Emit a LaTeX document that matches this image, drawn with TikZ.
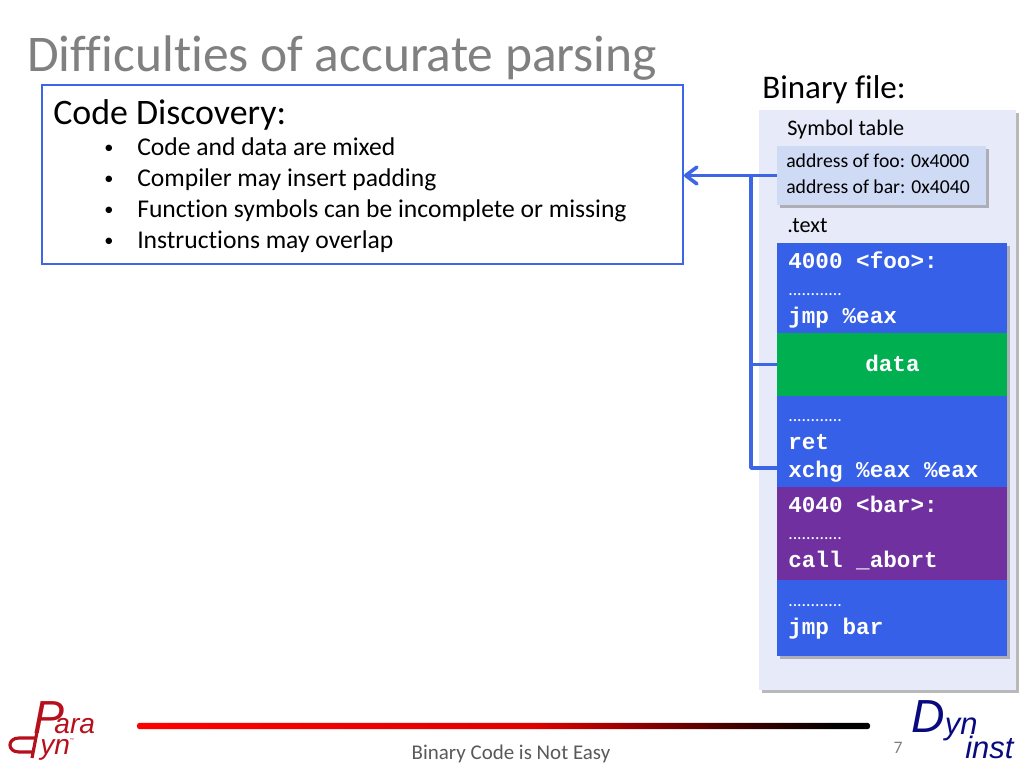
\documentclass[tikz,border=0pt]{standalone}
\usepackage{fontspec}
\setmainfont{Carlito}[Ligatures=NoCommon]
\newfontfamily\codefont{Liberation Mono}[BoldFont={Liberation Mono Bold}]
\newfontfamily\logofont{Liberation Sans}
\usetikzlibrary{positioning}
\usetikzlibrary{shadows, arrows.meta}
\definecolor{linkblue}{HTML}{3C66E6}
\definecolor{panelblue}{HTML}{E6EAF9}
\definecolor{symblue}{HTML}{CFDAF5}
\definecolor{codeblue}{HTML}{3660E8}
\definecolor{datagreen}{HTML}{00B050}
\definecolor{barpurple}{HTML}{7030A0}
\definecolor{paradark}{HTML}{B5101C}
\definecolor{dynnavy}{HTML}{0A0A80}
\pgfdeclarehorizontalshading{footbar}{100bp}{color(0bp)=(red); color(25bp)=(red); color(52bp)=(red!88!black); color(66bp)=(red!25!black); color(73bp)=(black); color(100bp)=(black)}
\tikzset{
  softshadow/.style={drop shadow={shadow xshift=0.07cm,shadow yshift=-0.08cm,fill=black!50,opacity=0.55}},
  blockbox/.style={rectangle,inner sep=0pt,minimum width=5.75cm,softshadow},
  linetext/.style={anchor=base west,inner sep=0pt},
  codeline/.style={linetext,text=white,font=\codefont\bfseries\fontsize{16.1}{18}\selectfont},
  dotline/.style={linetext,text=white,font=\fontsize{12.6}{14}\selectfont},
  bodytext/.style={linetext,font=\fontsize{18.2}{20}\selectfont},
  sidetext/.style={linetext,font=\fontsize{15.8}{18}\selectfont},
  linkline/.style={draw=linkblue,line width=0.09cm},
}
\begin{document}
\begin{tikzpicture}[x=0.025cm,y=-0.025cm]
\useasboundingbox (0,0) rectangle (1024,768);
% title and left box
\node[linetext,text=black!50,font=\fontsize{36.6}{44}\selectfont] (title) at (27,72) {Difficulties of accurate parsing};
\node[rectangle,draw=linkblue,line width=0.04cm,inner sep=0pt,minimum width=16.025cm,minimum height=4.475cm] (discbox) at (362.5,174.5) {};
\node[linetext,font=\fontsize{25.5}{28}\selectfont] (dischead) at (53,125) {Code Discovery:};
\foreach \ypos/\itemname/\itemtext in {156/itema/Code and data are mixed,187/itemb/Compiler may insert padding,217/itemc/Function symbols can be incomplete or missing,248/itemd/Instructions may overlap}{
  \node[bodytext] (\itemname) at (137,\ypos) {\itemtext};
  \node[linetext,font=\fontsize{13}{14}\selectfont] (\itemname dot) at (104,\ypos-2) {•};
}
% binary file panel
\node[linetext,font=\fontsize{23.5}{26}\selectfont] (binhead) at (762,99) {Binary file:};
\node[rectangle,fill=panelblue,inner sep=0pt,minimum width=6.425cm,minimum height=14.5cm,softshadow] (panel) at (887.5,400) {};
\node[sidetext] (symhead) at (787,136) {Symbol table};
\node[rectangle,fill=symblue,inner sep=0pt,minimum width=5.225cm,minimum height=1.475cm,softshadow] (symtab) at (881.5,175.5) {};
\node[linetext,font=\fontsize{14}{15}\selectfont] (symfoo) at (786,168) {address of foo: 0x4000};
\node[linetext,font=\fontsize{14}{15}\selectfont] (symbar) at (786,193) {address of bar: 0x4040};
\node[sidetext] (texthead) at (787,232) {.text};
% code blocks
\node[blockbox,fill=codeblue,minimum height=6.1cm] (codeback) at (892,365) {};
\node[rectangle,inner sep=0pt,fill=datagreen,minimum width=5.75cm,minimum height=1.575cm] (datablock) at (892,364.5) {};
\node[blockbox,fill=barpurple,minimum height=2.325cm] (barblock) at (892,533.5) {};
\node[blockbox,fill=codeblue,minimum height=1.9cm] (lastblock) at (892,618) {};
\node[codeline] (fooline) at (788,268) {4000 <foo>:};
\node[dotline] (dotsa) at (788,295) {............};
\node[codeline] (jmpline) at (788,323) {jmp \%eax};
\node[codeline] (dataline) at (865,371) {data};
\node[dotline] (dotsb) at (788,421) {............};
\node[codeline] (retline) at (788,449) {ret};
\node[codeline] (xchgline) at (788,477) {xchg \%eax \%eax};
\node[codeline] (barline) at (788,512) {4040 <bar>:};
\node[dotline] (dotsc) at (788,539) {............};
\node[codeline] (callline) at (788,567) {call \_abort};
\node[dotline] (dotsd) at (788,606) {............};
\node[codeline] (jmpbar) at (788,634) {jmp bar};
% connectors
\coordinate (trunk) at (751,175.5);
\coordinate (xchgend) at (777,468);
\draw[linkline,-{Straight Barb[length=0.28cm,width=0.42cm,round]}] (symtab.west) -- (symtab.west -| discbox.east);
\draw[linkline,line join=round] (trunk) |- (xchgend);
\draw[linkline] (trunk |- datablock.west) -- (datablock.west);
% footer
\node[rectangle,rounded corners=0.07cm,inner sep=0pt,minimum width=18.325cm,minimum height=0.16cm,shading=footbar] (footbar) at (503.5,726) {};
\node[anchor=base,inner sep=0pt,text=black!65,font=\fontsize{14.9}{16}\selectfont] (foottext) at (511,759) {Binary Code is Not Easy};
\node[anchor=base,inner sep=0pt,text=black!50,font=\fontsize{12.5}{14}\selectfont] (pagenum) at (898,753) {7};
% logos
\node[linetext,text=paradark,font=\logofont\itshape\fontsize{20}{22}\selectfont] (logopara) at (33,733) {{\fontsize{33}{36}\selectfont P}\kern-7pt ara};
\node[linetext,text=paradark,font=\logofont\itshape\fontsize{20}{22}\selectfont] (logoyn) at (40,754) {yn\raisebox{9pt}{\fontsize{3}{4}\selectfont ™}};
\draw[draw=paradark,line width=0.08cm,line join=round] (37,732) -- (32,758) (36,738) -- (19,738) .. controls (7,738) and (7,752) .. (19,752) -- (33,752);
\node[linetext,text=dynnavy,font=\logofont\itshape\fontsize{22}{24}\selectfont] (logodyn) at (911,732) {{\fontsize{33}{36}\selectfont D}\raisebox{-2pt}{yn}};
\node[linetext,text=dynnavy,font=\logofont\itshape\fontsize{22}{24}\selectfont] (logoinst) at (965,758) {inst};
\end{tikzpicture}
\end{document}
